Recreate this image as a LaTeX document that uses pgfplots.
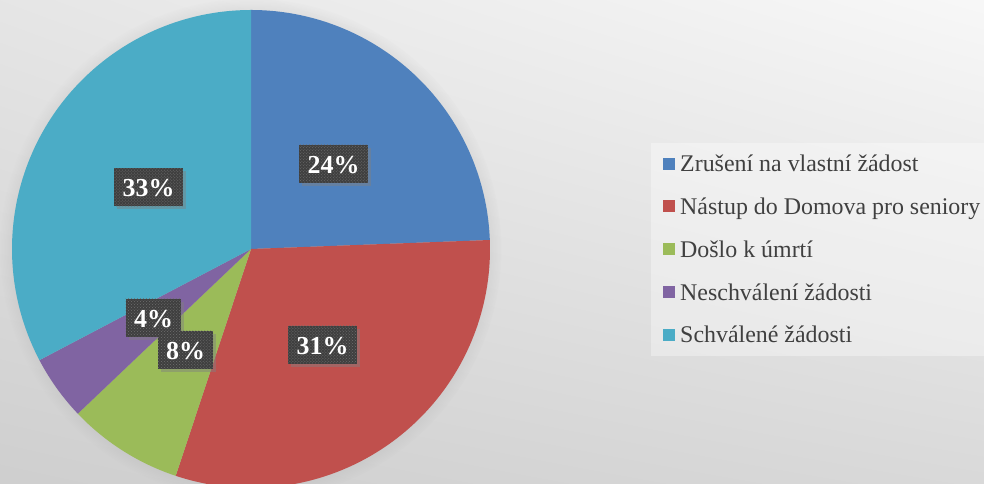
\documentclass[border=0pt]{standalone}
\usepackage{fontspec}
\setmainfont{Liberation Serif}
\usepackage{pgfplots}
\pgfplotsset{compat=1.18}
\usetikzlibrary{shadows,patterns,shadings}

\definecolor{cBlue}{HTML}{4F81BD}
\definecolor{cRed}{HTML}{C0504D}
\definecolor{cGreen}{HTML}{9BBB59}
\definecolor{cPurple}{HTML}{8064A2}
\definecolor{cTeal}{HTML}{4BACC6}
\definecolor{cText}{HTML}{404040}
\definecolor{cBox}{HTML}{3F3F3F}

% shares (%), clockwise from 12 o'clock
\def\vZrus{24.4}
\def\vNast{30.7}
\def\vUmrt{7.8}
\def\vNeschv{4.4}
\def\vSchv{32.7}

\pgfmathsetmacro\aA{90}
\pgfmathsetmacro\aB{\aA-3.6*\vZrus}
\pgfmathsetmacro\aC{\aB-3.6*\vNast}
\pgfmathsetmacro\aD{\aC-3.6*\vUmrt}
\pgfmathsetmacro\aE{\aD-3.6*\vNeschv}
\pgfmathsetmacro\aF{\aE-3.6*\vSchv}

\begin{document}
\begin{tikzpicture}[x=1bp,y=1bp,
  lbl/.style={fill=cBox, text=white, font=\fontsize{26}{28}\selectfont\bfseries,
    inner xsep=8.5bp, inner ysep=0bp, minimum height=38bp, text height=18.5bp, text depth=0bp,
    drop shadow={shadow xshift=3bp, shadow yshift=-3bp, opacity=0.45},
    postaction={pattern=crosshatch dots, pattern color=white!25!cBox}}]

% background
\shade[upper left=black!10, upper right=black!3, lower left=black!19, lower right=black!15]
  (0,0) rectangle (984,484);
\fill[white, opacity=0.35] (651,341) rectangle (984,128);
\path[circular drop shadow={shadow scale=1.05, opacity=0.3, shadow xshift=0bp, shadow yshift=0bp}]
  (251,235) circle (239);

\begin{axis}[
    at={(0,0)}, anchor=south west,
    width=984bp, height=484bp, scale only axis,
    xmin=0, xmax=984, ymin=0, ymax=484,
    hide axis, clip=true,
    legend cell align=left,
    legend image code/.code={\fill[#1] (0bp,-6bp) rectangle (12bp,6bp);},
    legend style={at={(axis cs:663,328.5)}, anchor=north west, draw=none, fill=none,
      inner sep=0pt, row sep=26.8bp,
      font=\fontsize{24}{26}\selectfont\color{cText},
      nodes={inner xsep=5bp, inner ysep=0bp, text height=16bp, text depth=0bp}},
]
\addplot[fill=cBlue, draw=none, domain=\aB:\aA, samples=90] ({251+239*cos(x)},{235+239*sin(x)}) -- (axis cs:251,235) -- cycle;
\addlegendentry{Zrušení na vlastní žádost}
\addplot[fill=cRed, draw=none, domain=\aC:\aB, samples=90] ({251+239*cos(x)},{235+239*sin(x)}) -- (axis cs:251,235) -- cycle;
\addlegendentry{Nástup do Domova pro seniory}
\addplot[fill=cGreen, draw=none, domain=\aD:\aC, samples=40] ({251+239*cos(x)},{235+239*sin(x)}) -- (axis cs:251,235) -- cycle;
\addlegendentry{Došlo k úmrtí}
\addplot[fill=cPurple, draw=none, domain=\aE:\aD, samples=30] ({251+239*cos(x)},{235+239*sin(x)}) -- (axis cs:251,235) -- cycle;
\addlegendentry{Neschválení žádosti}
\addplot[fill=cTeal, draw=none, domain=\aF:\aE, samples=90] ({251+239*cos(x)},{235+239*sin(x)}) -- (axis cs:251,235) -- cycle;
\addlegendentry{Schválené žádosti}

\node[lbl] at (axis cs:333.5,320) {24\%};
\node[lbl] at (axis cs:322.5,139) {31\%};
\node[lbl] at (axis cs:148.5,296.5) {33\%};
\node[lbl] at (axis cs:153.5,166) {4\%};
\node[lbl] at (axis cs:185.5,134) {8\%};
\end{axis}
\pgfresetboundingbox
\useasboundingbox (0,0) rectangle (984,484);
\end{tikzpicture}
\end{document}
